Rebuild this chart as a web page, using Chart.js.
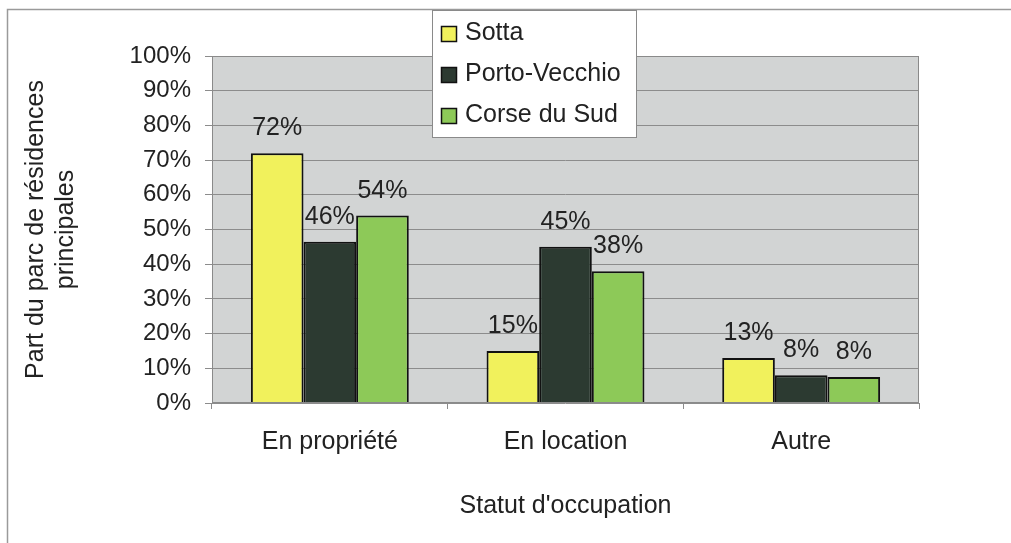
<!DOCTYPE html>
<html>
<head>
<meta charset="utf-8">
<script src="https://cdn.jsdelivr.net/npm/chart.js@4.4.0/dist/chart.umd.min.js"></script>
<style>
    html, body { margin: 0; padding: 0; background: #fff; }
    #wrap { width: 1011px; height: 543px; position: relative; }
</style>
</head>
<body>
<div id="wrap"><canvas id="occupationChart"></canvas></div>
<script>
// ========================================
// DATA
// ========================================
const categories = ['En propriété', 'En location', 'Autre'];
const seriesNames = ['Sotta', 'Porto-Vecchio', 'Corse du Sud'];
const sottaValues = [72, 15, 13];
const portoVecchioValues = [46.5, 45, 8];
const corseDuSudValues = [54, 38, 7.5];
const valueLabels = [
    ['72%', '15%', '13%'],
    ['46%', '45%', '8%'],
    ['54%', '38%', '8%']
];
const yTicks = [0, 10, 20, 30, 40, 50, 60, 70, 80, 90, 100];

const barColors = ['#f1f15c', '#2c3a31', '#8dc958'];
const FONT = 'Arial, "Liberation Sans", sans-serif';

// ========================================
// PLUGINS
// ========================================
// grey plot background + outer frame of the scanned page
const backgroundPlugin = {
    id: 'plotBackground',
    beforeDraw(chart) {
        const { ctx, chartArea: a } = chart;
        ctx.save();
        ctx.fillStyle = '#d2d4d4';
        ctx.fillRect(a.left, a.top, a.right - a.left, a.bottom - a.top);
        ctx.strokeStyle = '#9a9a9a';
        ctx.lineWidth = 1.5;
        ctx.beginPath();
        ctx.moveTo(7.5, 543);
        ctx.lineTo(7.5, 9.5);
        ctx.lineTo(1011, 9.5);
        ctx.stroke();
        ctx.restore();
    },
    afterDatasetsDraw(chart) {
        const { ctx, chartArea: a } = chart;
        ctx.save();
        ctx.strokeStyle = '#8a8a8a';
        ctx.lineWidth = 1;
        ctx.strokeRect(a.left + 0.5, a.top + 0.5, a.right - a.left - 1, a.bottom - a.top - 1);
        ctx.restore();
    }
};

// percentage labels above each bar
const valueLabelPlugin = {
    id: 'valueLabels',
    afterDatasetsDraw(chart) {
        const { ctx } = chart;
        ctx.save();
        ctx.font = '25px ' + FONT;
        ctx.fillStyle = '#222';
        ctx.textAlign = 'center';
        ctx.textBaseline = 'alphabetic';
        chart.data.datasets.forEach((ds, i) => {
            chart.getDatasetMeta(i).data.forEach((bar, j) => {
                ctx.fillText(valueLabels[i][j], bar.x, bar.y - 18);
            });
        });
        ctx.restore();
    }
};

// legend box overlapping the top of the plot
const legendBoxPlugin = {
    id: 'legendBox',
    afterDraw(chart) {
        const { ctx } = chart;
        const x = 432, y = 10, w = 204, h = 127;
        ctx.save();
        ctx.fillStyle = '#fff';
        ctx.fillRect(x, y, w, h);
        ctx.strokeStyle = '#8a8a8a';
        ctx.lineWidth = 1;
        ctx.strokeRect(x + 0.5, y + 0.5, w, h);
        ctx.font = '25px ' + FONT;
        ctx.textBaseline = 'middle';
        ctx.textAlign = 'left';
        seriesNames.forEach((name, i) => {
            const cy = y + 23 + i * 41;
            ctx.fillStyle = barColors[i];
            ctx.fillRect(x + 9, cy - 7, 16, 16);
            ctx.strokeStyle = '#111';
            ctx.lineWidth = 1.5;
            ctx.strokeRect(x + 9.5, cy - 6.5, 15, 15);
            ctx.fillStyle = '#222';
            ctx.fillText(name, x + 33, cy);
        });
        ctx.restore();
    }
};

// ========================================
// CHART
// ========================================
const ctx = document.getElementById('occupationChart');

new Chart(ctx, {
    type: 'bar',
    data: {
        labels: categories,
        datasets: [sottaValues, portoVecchioValues, corseDuSudValues].map((values, i) => ({
            label: seriesNames[i],
            data: values,
            backgroundColor: barColors[i],
            borderColor: '#111',
            borderWidth: 2,
            borderSkipped: 'bottom',
            categoryPercentage: 0.67,
            barPercentage: 1
        }))
    },
    options: {
        responsive: true,
        maintainAspectRatio: false,
        animation: false,
        layout: {
            padding: { left: 0, right: 92, top: 56, bottom: 0 }
        },
        plugins: {
            legend: { display: false },
            tooltip: { enabled: false }
        },
        scales: {
            y: {
                min: 0,
                max: 100,
                afterFit(scale) { scale.width = 212; },
                afterBuildTicks(scale) {
                    scale.ticks = yTicks.map(v => ({ value: v }));
                },
                ticks: {
                    callback: v => v + '%',
                    color: '#222',
                    padding: 14,
                    font: { family: FONT, size: 24 }
                },
                grid: {
                    color: '#8c8c8c',
                    lineWidth: 1,
                    tickLength: 7,
                    drawOnChartArea: true
                },
                border: { display: false },
                title: {
                    display: true,
                    text: ['Part du parc de résidences', 'principales'],
                    color: '#222',
                    font: { family: FONT, size: 25 },
                    padding: { top: 21, bottom: 0 }
                }
            },
            x: {
                afterFit(scale) { scale.height = 140; },
                ticks: {
                    color: '#222',
                    padding: 18,
                    font: { family: FONT, size: 25 }
                },
                grid: {
                    color: '#8c8c8c',
                    drawOnChartArea: false,
                    tickLength: 6,
                    offset: true
                },
                border: { display: false },
                title: {
                    display: true,
                    text: "Statut d'occupation",
                    color: '#222',
                    font: { family: FONT, size: 25 },
                    padding: { top: 0, bottom: 22 }
                }
            }
        }
    },
    plugins: [backgroundPlugin, valueLabelPlugin, legendBoxPlugin]
});
</script>
</body>
</html>
